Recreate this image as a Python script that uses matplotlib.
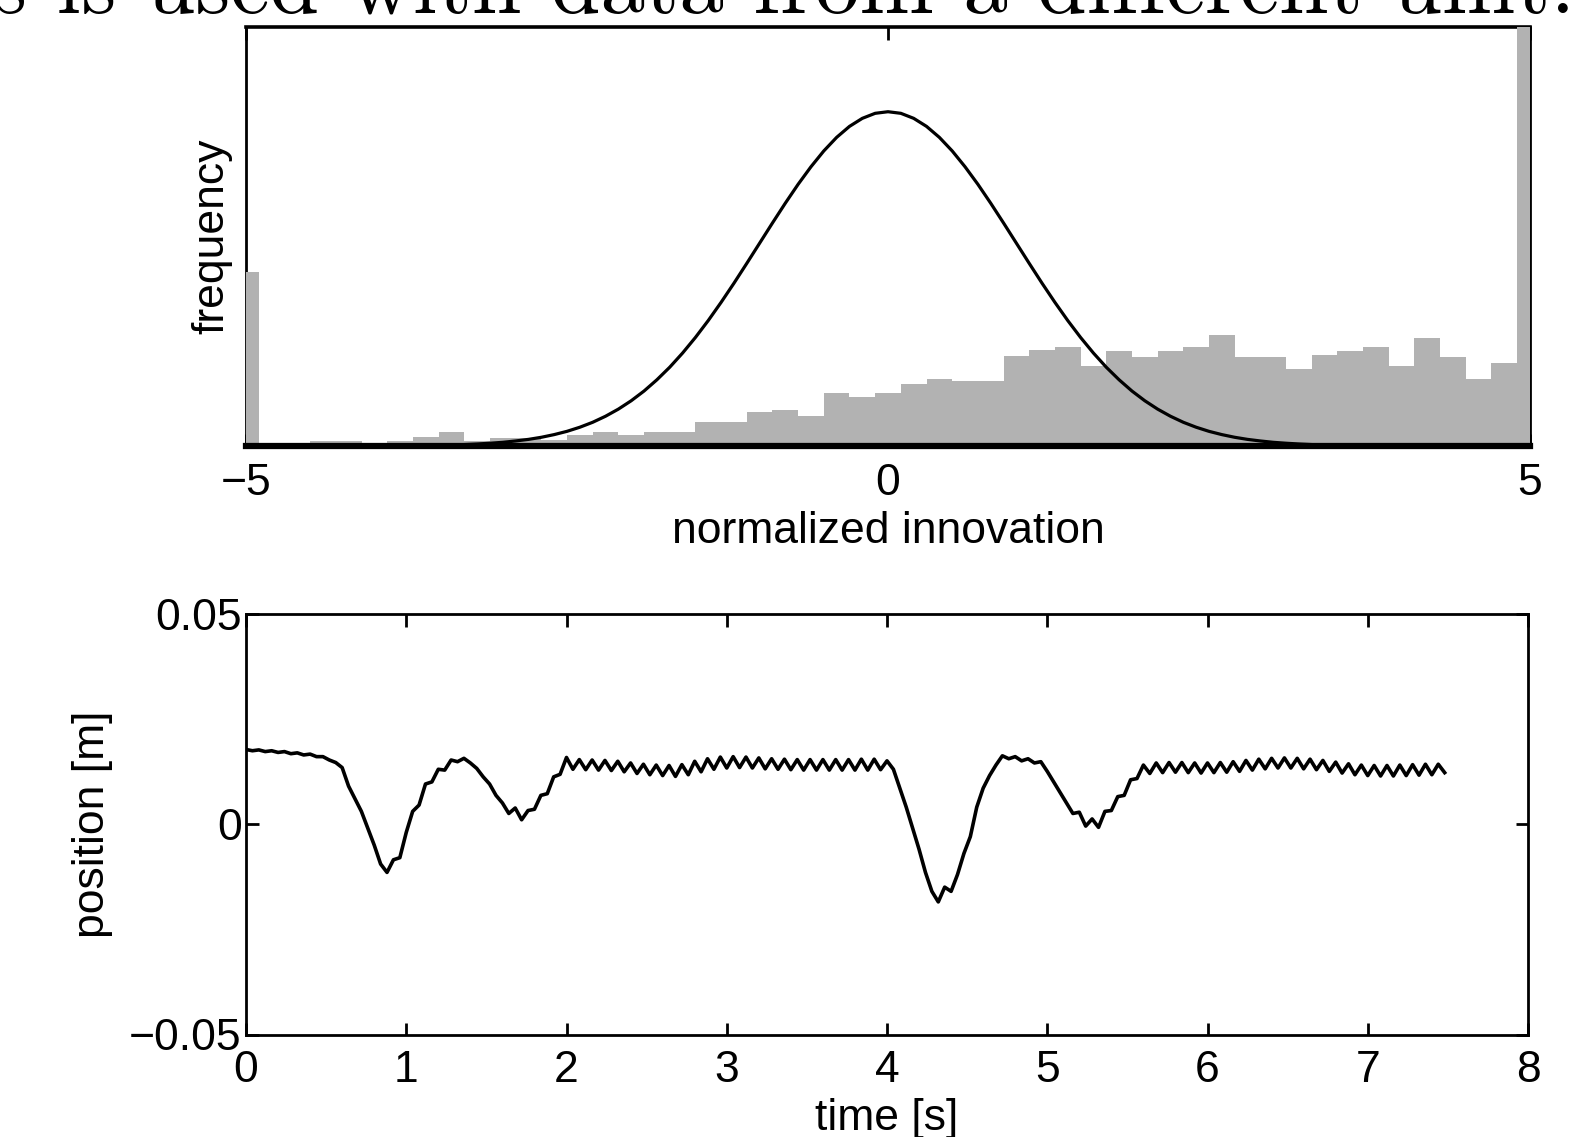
import numpy as np
import matplotlib
matplotlib.use("Agg")
import matplotlib.pyplot as plt

plt.rcParams['font.family'] = ['Liberation Sans', 'DejaVu Sans']

# ---------------- data ----------------
hist_centers = [-5.0, -4.8, -4.6, -4.4, -4.2, -4.0, -3.8, -3.6, -3.4, -3.2,
                -3.0, -2.8, -2.6, -2.4, -2.2, -2.0, -1.8, -1.6, -1.4, -1.2,
                -1.0, -0.8, -0.6, -0.4, -0.2, 0.0, 0.2, 0.4, 0.6, 0.8,
                1.0, 1.2, 1.4, 1.6, 1.8, 2.0, 2.2, 2.4, 2.6, 2.8,
                3.0, 3.2, 3.4, 3.6, 3.8, 4.0, 4.2, 4.4, 4.6, 4.8, 5.0]
hist_values = [0.208, 0.0, 0.0, 0.006, 0.006, 0.0, 0.006, 0.011, 0.017, 0.006,
               0.0095, 0.0095, 0.007, 0.013, 0.017, 0.013, 0.017, 0.017, 0.029, 0.029,
               0.040, 0.043, 0.036, 0.063, 0.059, 0.063, 0.074, 0.080, 0.077, 0.077,
               0.107, 0.114, 0.118, 0.096, 0.113, 0.106, 0.113, 0.118, 0.132, 0.106,
               0.106, 0.092, 0.109, 0.113, 0.118, 0.095, 0.129, 0.106, 0.080, 0.099, 0.504]

curve_x = [-5.0, -4.0, -3.5, -3.4, -3.3, -3.2, -3.1, -3.0, -2.9, -2.8, -2.7, -2.6,
           -2.5, -2.4, -2.3, -2.2, -2.1, -2.0, -1.9, -1.8, -1.7, -1.6, -1.5, -1.4,
           -1.3, -1.2, -1.1, -1.0, -0.9, -0.8, -0.7, -0.6, -0.5, -0.4, -0.3, -0.2,
           -0.1, 0.0, 0.1, 0.2, 0.3, 0.4, 0.5, 0.6, 0.7, 0.8, 0.9, 1.0,
           1.1, 1.2, 1.3, 1.4, 1.5, 1.6, 1.7, 1.8, 1.9, 2.0, 2.1, 2.2,
           2.3, 2.4, 2.5, 2.6, 2.7, 2.8, 2.9, 3.0, 3.1, 3.2, 3.3, 3.4,
           3.5, 4.0, 5.0]
curve_y = [0.0, 0.0001, 0.0009, 0.0012, 0.0017, 0.0024, 0.0033, 0.0044, 0.0060, 0.0079, 0.0104, 0.0136,
           0.0175, 0.0224, 0.0283, 0.0355, 0.0440, 0.0540, 0.0656, 0.0790, 0.0940, 0.1109, 0.1295, 0.1497,
           0.1714, 0.1942, 0.2179, 0.2420, 0.2661, 0.2897, 0.3123, 0.3332, 0.3521, 0.3683, 0.3814, 0.3910,
           0.3970, 0.3989, 0.3970, 0.3910, 0.3814, 0.3683, 0.3521, 0.3332, 0.3123, 0.2897, 0.2661, 0.2420,
           0.2179, 0.1942, 0.1714, 0.1497, 0.1295, 0.1109, 0.0940, 0.0790, 0.0656, 0.0540, 0.0440, 0.0355,
           0.0283, 0.0224, 0.0175, 0.0136, 0.0104, 0.0079, 0.0060, 0.0044, 0.0033, 0.0024, 0.0017, 0.0012,
           0.0009, 0.0001, 0.0]

hist_ticks = [-5, 0, 5]
hist_ticklabels = ['\u22125', '0', '5']

sample_dt = 0.04  # s
position_m = [
    0.0177, 0.0174, 0.0176, 0.0172, 0.0174, 0.0170, 0.0172, 0.0167, 0.0169, 0.0164,
    0.0166, 0.0160, 0.0160, 0.0152, 0.0146, 0.0134, 0.0090, 0.0060, 0.0030, -0.0010,
    -0.0050, -0.0095, -0.0115, -0.0085, -0.0080, -0.0020, 0.0030, 0.0045, 0.0095, 0.0100,
    0.0130, 0.0128, 0.0152, 0.0148, 0.0156, 0.0145, 0.0132, 0.0112, 0.0095, 0.0068,
    0.0050, 0.0025, 0.0038, 0.0010, 0.0032, 0.0035, 0.0068, 0.0072, 0.0112, 0.0118,
    0.0158, 0.0130, 0.0153, 0.0129, 0.0152, 0.0128, 0.0151, 0.0127, 0.0149, 0.0124,
    0.0145, 0.0120, 0.0142, 0.0117, 0.0140, 0.0115, 0.0139, 0.0113, 0.0141, 0.0117,
    0.0149, 0.0124, 0.0155, 0.0130, 0.0159, 0.0133, 0.0160, 0.0134, 0.0159, 0.0133,
    0.0157, 0.0131, 0.0155, 0.0130, 0.0154, 0.0129, 0.0153, 0.0128, 0.0153, 0.0128,
    0.0153, 0.0128, 0.0153, 0.0128, 0.0153, 0.0128, 0.0154, 0.0128, 0.0154, 0.0129,
    0.0150, 0.0130, 0.0085, 0.0040, -0.0010, -0.0060, -0.0115, -0.0160, -0.0185, -0.0150,
    -0.0160, -0.0120, -0.0070, -0.0030, 0.0040, 0.0085, 0.0115, 0.0140, 0.0162, 0.0155,
    0.0160, 0.0150, 0.0155, 0.0145, 0.0148, 0.0125, 0.0100, 0.0075, 0.0050, 0.0025,
    0.0028, -0.0005, 0.0012, -0.0008, 0.0030, 0.0032, 0.0065, 0.0068, 0.0105, 0.0108,
    0.0140, 0.0120, 0.0145, 0.0122, 0.0146, 0.0123, 0.0146, 0.0122, 0.0145, 0.0121,
    0.0145, 0.0122, 0.0146, 0.0123, 0.0148, 0.0125, 0.0151, 0.0128, 0.0154, 0.0131,
    0.0156, 0.0133, 0.0157, 0.0133, 0.0156, 0.0131, 0.0154, 0.0129, 0.0151, 0.0125,
    0.0147, 0.0121, 0.0143, 0.0117, 0.0140, 0.0115, 0.0139, 0.0114, 0.0139, 0.0114,
    0.0140, 0.0115, 0.0141, 0.0116, 0.0142, 0.0117, 0.0142, 0.0122]
time_s = np.arange(len(position_m)) * sample_dt

pos_ticks = [-0.05, 0, 0.05]
pos_ticklabels = ['\u22120.05', '0', '0.05']
time_ticks = [0, 1, 2, 3, 4, 5, 6, 7, 8]

header_text = "s is used with data from a different unit."

# ---------------- figure ----------------
W, H = 1590, 1137
fig = plt.figure(figsize=(W / 100, H / 100), dpi=100)

FS = 32

# clipped header line of the surrounding document
fig.text(1575 / W, 1 - 12 / H, header_text, family='cmr10', fontsize=64,
         ha='right', va='baseline')

# --- top: histogram ---
ax1 = fig.add_axes([246 / W, 1 - 446 / H, 1284 / W, 419 / H])
ax1.bar(hist_centers, hist_values, width=0.2, color='#b2b2b2', linewidth=0, zorder=3)
ax1.plot(curve_x, curve_y, color='black', lw=2.3, zorder=4)
ax1.set_xlim(-5, 5)
ax1.set_ylim(0, 0.5)
ax1.set_yticks([])
ax1.set_xticks(hist_ticks)
ax1.set_xticklabels(hist_ticklabels)
ax1.tick_params(axis='x', direction='in', top=True, bottom=True, length=9, width=2,
                pad=12.5, labelsize=FS)
for s in ['left', 'right', 'top']:
    ax1.spines[s].set_linewidth(2)
ax1.spines['top'].set_linewidth(2.6)
ax1.spines['bottom'].set_linewidth(4.5)
ax1.spines['bottom'].set_zorder(5)
ax1.set_xlabel('normalized innovation', fontsize=FS, labelpad=5)
ax1.set_ylabel('frequency', fontsize=FS, labelpad=10)

# --- bottom: position time series ---
ax2 = fig.add_axes([246 / W, 1 - 1034.5 / H, 1282 / W, 421 / H])
ax2.plot(time_s, position_m, color='black', lw=2.6)
ax2.set_xlim(0, 8)
ax2.set_ylim(-0.05, 0.05)
ax2.set_xticks(time_ticks)
ax2.set_xticklabels([str(t) for t in time_ticks])
ax2.set_yticks(pos_ticks)
ax2.set_yticklabels(pos_ticklabels)
ax2.tick_params(axis='x', direction='in', top=True, bottom=True, length=9, width=2,
                pad=11.5, labelsize=FS)
ax2.tick_params(axis='y', direction='in', left=True, right=True, length=9, width=2,
                pad=3, labelsize=FS)
for s in ax2.spines.values():
    s.set_linewidth(2)
ax2.set_xlabel('time [s]', fontsize=FS, labelpad=5)
ax2.set_ylabel('position [m]', fontsize=FS, labelpad=12)

fig.savefig('out.png', dpi=100)
